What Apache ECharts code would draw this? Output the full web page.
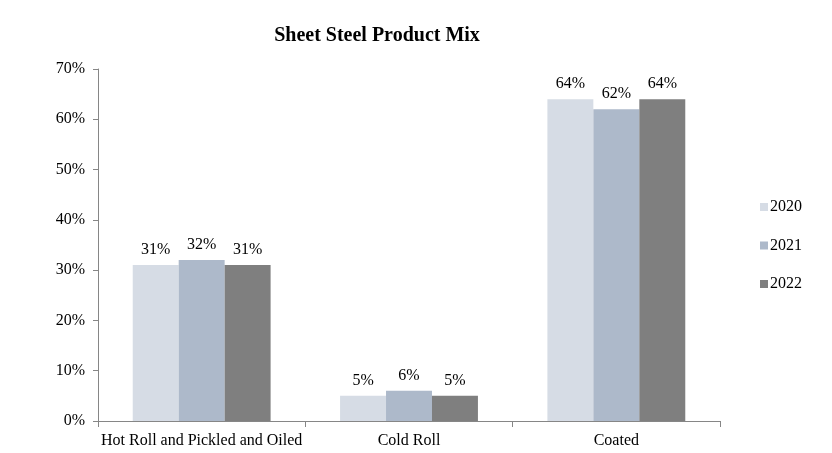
<!DOCTYPE html>
<html><head><meta charset="utf-8">
<script src="https://cdn.jsdelivr.net/npm/echarts@6/dist/echarts.min.js"></script>
<style>html,body{margin:0;padding:0;background:#fff}#c{width:832px;height:453px}</style>
</head><body><div id="c"></div>
<script>
const categories = ["Hot Roll and Pickled and Oiled", "Cold Roll", "Coated"];
const seriesNames = ["2020", "2021", "2022"];
const values2020 = [31, 5, 64];
const values2021 = [32, 6, 62];
const values2022 = [31, 5, 64];
const yTicks = [0, 10, 20, 30, 40, 50, 60, 70];
const colors = ["#D6DCE5", "#ADB9CA", "#7F7F7F"];
const font = "'Liberation Serif','Times New Roman',serif";
const allValues = [values2020, values2021, values2022];

const chart = echarts.init(document.getElementById('c'));
chart.setOption({
  animation: false,
  title: {
    text: "Sheet Steel Product Mix",
    left: 372, top: 21, textAlign: 'center',
    textStyle: {fontFamily: font, fontSize: 20, fontWeight: 'bold', color: '#000'}
  },
  legend: {
    orient: 'vertical', left: 755, top: 194, itemGap: 22.5,
    itemWidth: 8, itemHeight: 8, icon: 'rect',
    textStyle: {fontFamily: font, fontSize: 16, color: '#000', padding: [0,0,0,-3]},
    data: seriesNames
  },
  grid: {left: 98, right: 112, top: 69, bottom: 32},
  xAxis: {
    type: 'category', data: categories,
    axisLine: {lineStyle: {color: '#868686'}},
    axisTick: {show: true, length: 6, lineStyle: {color: '#868686'}},
    axisLabel: {interval: 0, fontFamily: font, fontSize: 16, color: '#000', margin: 12}
  },
  yAxis: {
    type: 'value', min: yTicks[0], max: yTicks[yTicks.length-1], interval: 10,
    axisLine: {show: true, lineStyle: {color: '#868686'}},
    axisTick: {show: true, length: 5, lineStyle: {color: '#868686'}},
    splitLine: {show: false},
    axisLabel: {fontFamily: font, fontSize: 16, color: '#000', margin: 13, formatter: v => v + '%'}
  },
  series: seriesNames.map((n, i) => ({
    name: n, type: 'bar', data: allValues[i],
    barGap: '0%', barCategoryGap: '33.5%',
    itemStyle: {color: colors[i]},
    label: {show: true, position: 'top', distance: 7, fontFamily: font, fontSize: 16, color: '#000', formatter: p => p.value + '%'}
  }))
});
</script></body></html>
